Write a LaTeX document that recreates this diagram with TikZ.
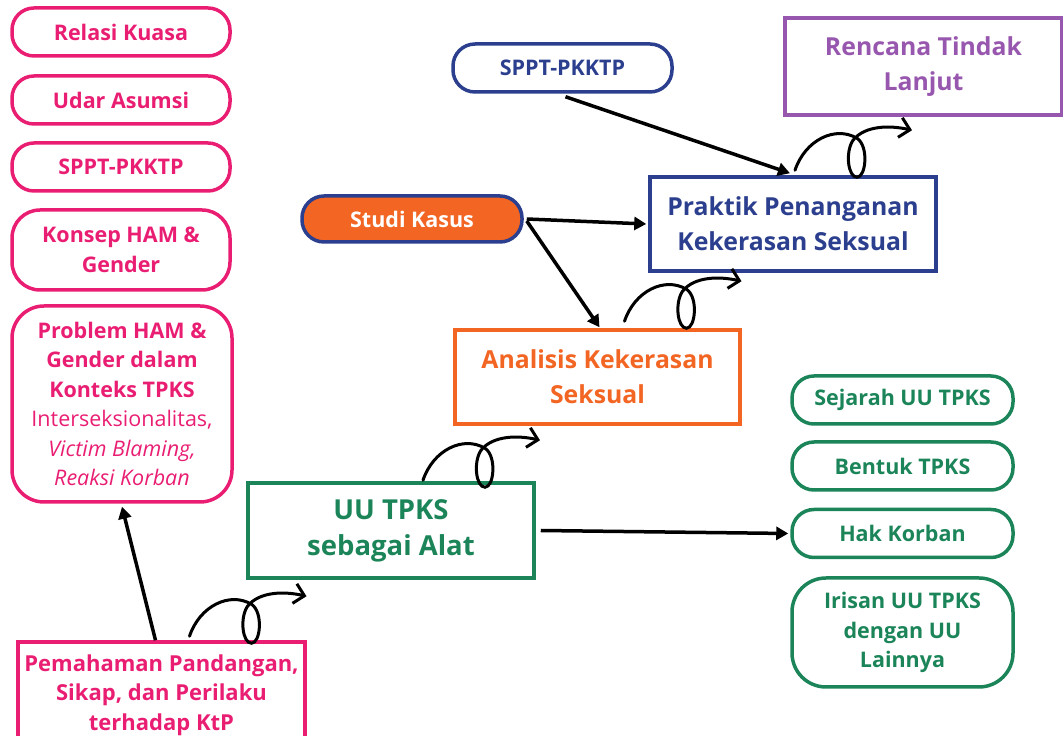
\documentclass[tikz,border=0pt]{standalone}
\usepackage{fontspec}
\setmainfont{Open Sans}
\usetikzlibrary{arrows.meta}

\definecolor{pinkk}{HTML}{E91E73}
\definecolor{greenn}{HTML}{1B8559}
\definecolor{bluee}{HTML}{2B3F8E}
\definecolor{orangee}{HTML}{F26522}
\definecolor{purplee}{HTML}{9857AE}

\begin{document}
\begin{tikzpicture}
[
    x = 1pt, y = 1pt,
    every node/.append style = {align = center, inner sep = 0pt, font = \bfseries\fontsize{21.5}{29.5}\selectfont},
    pill/.style = {draw = #1, text = #1, line width = 3.5pt, rounded corners = 22pt, minimum width = 218pt, minimum height = 48pt},
    tallpill/.style = {pill = #1, rounded corners = 28pt},
    bigbox/.style = {draw = #1, text = #1, line width = 3.5pt, minimum width = 286pt, minimum height = 94pt, font = \bfseries\fontsize{24.8}{35}\selectfont},
    arr/.style = {line width = 3.5pt, -{Triangle[length = 12pt, width = 13pt]}},
    curlline/.style = {line width = 3pt, line cap = round, -{Straight Barb[length = 10pt, width = 20pt]}},
    curl/.pic = {\draw[curlline] (0,0) .. controls (10,30) and (40,45) .. (62,32)
        .. controls (74,24) and (71,-7) .. (62,-7)
        .. controls (53,-7) and (50,18) .. (58,30)
        .. controls (70,45) and (95,45) .. (117,40);}
]
\useasboundingbox (0,0) rectangle (1063,736);

% left column
\node[pill = pinkk] (relasi) at (121,704) {Relasi Kuasa};
\node[pill = pinkk] (udar) at (121,636) {Udar Asumsi};
\node[pill = pinkk] (spptL) at (121,569) {SPPT-PKKTP};
\node[tallpill = pinkk, minimum height = 80pt] (konsep) at (121,486) {Konsep HAM \&\\Gender};
\node[tallpill = pinkk, minimum width = 220pt, minimum height = 196pt, rounded corners = 32pt] (problem) at (122,332)
    {Problem HAM \&\\Gender dalam\\Konteks TPKS\\\mdseries Interseksionalitas,\\\mdseries\itshape Victim Blaming,\\\mdseries\itshape Reaksi Korban};
\node[draw = pinkk, text = pinkk, line width = 3.5pt, minimum width = 287pt, minimum height = 106pt, font = \bfseries\fontsize{22}{29.5}\selectfont] (pemahaman) at (161.5,41)
    {Pemahaman Pandangan,\\Sikap, dan Perilaku\\terhadap KtP};

% middle
\node[bigbox = greenn, minimum height = 95pt, font = \bfseries\fontsize{27.5}{36}\selectfont] (uu) at (391,205.5) {UU TPKS\\sebagai Alat};
\node[bigbox = orangee, minimum width = 285pt] (analisis) at (597.5,359) {Analisis Kekerasan\\Seksual};
\node[pill = bluee, fill = orangee, text = white, minimum width = 220pt, minimum height = 46pt] (studi) at (412,517) {Studi Kasus};
\node[pill = bluee, minimum width = 219pt] (spptB) at (562.5,668) {SPPT-PKKTP};
\node[bigbox = bluee] (praktik) at (793,512) {Praktik Penanganan\\Kekerasan Seksual};
\node[bigbox = purplee, minimum width = 277pt, minimum height = 97pt] (rencana) at (923.5,669.5) {Rencana Tindak\\Lanjut};

% right column
\node[pill = greenn, minimum width = 221pt] (sejarah) at (902.5,336) {Sejarah UU TPKS};
\node[pill = greenn, minimum width = 221pt] (bentuk) at (902.5,270) {Bentuk TPKS};
\node[pill = greenn, minimum width = 221pt] (hak) at (902.5,202.5) {Hak Korban};
\node[tallpill = greenn, minimum width = 221pt, minimum height = 109pt, rounded corners = 34pt] (irisan) at (902.5,103.5) {Irisan UU TPKS\\dengan UU\\Lainnya};

\draw[arr] ([xshift = -6pt]pemahaman.north) -- ([yshift = -3pt]problem.south);
\draw[arr] ([xshift = 5pt]uu.east) -- ([xshift = -2pt]hak.west);
\draw[arr] ([xshift = 3pt]studi.east) -- ([xshift = -2pt]praktik.west);
\draw[arr] ([xshift = 3pt, yshift = -2pt]studi.east) -- ([xshift = 2pt, yshift = 1pt]analisis.north);
\draw[arr] ([xshift = 3pt, yshift = -3pt]spptB.south) -- ([xshift = -3pt, yshift = 2pt]praktik.north);

\pic at ([xshift = 28pt, yshift = 4pt]pemahaman.north) {curl};
\pic at ([xshift = 32pt, yshift = 1pt]uu.north) {curl};
\pic at ([xshift = 27pt, yshift = 7pt]analisis.north) {curl};
\pic at ([xshift = 2pt, yshift = 5pt]praktik.north) {curl};
\end{tikzpicture}
\end{document}
